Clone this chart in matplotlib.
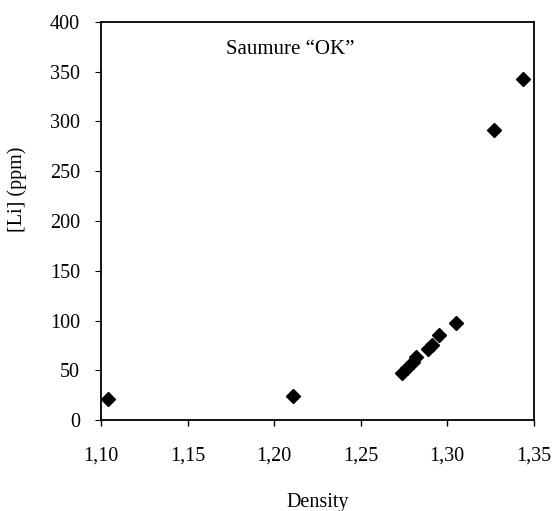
import matplotlib
matplotlib.use("Agg")
import matplotlib.pyplot as plt
from matplotlib.ticker import FuncFormatter

# values
density = [1.104, 1.211, 1.274, 1.277, 1.280, 1.282, 1.289, 1.291,
           1.295, 1.305, 1.327, 1.344]
lithium_ppm = [21, 24, 47, 52, 58, 63, 71, 75, 85, 98, 291, 343]

x_ticks = [1.10, 1.15, 1.20, 1.25, 1.30, 1.35]
y_ticks = [0, 50, 100, 150, 200, 250, 300, 350, 400]

plt.rcParams["font.family"] = ["Liberation Serif", "DejaVu Serif"]

fig = plt.figure(figsize=(5.52, 5.11), dpi=100)
ax = fig.add_axes([0.183, 0.178, 0.784, 0.779])

ax.plot(density, lithium_ppm, linestyle="none", marker="D",
        markersize=7, color="black", clip_on=False)

ax.set_xlim(1.10, 1.35)
ax.set_ylim(0, 400)
ax.set_xticks(x_ticks)
ax.set_yticks(y_ticks)
ax.xaxis.set_major_formatter(FuncFormatter(lambda v, _: f"{v:.2f}".replace(".", ",")))

for side in ax.spines.values():
    side.set_linewidth(1.3)
    side.set_color("black")

ax.tick_params(axis="x", direction="out", length=4, width=1.0,
               pad=15, labelsize=14.5)
ax.tick_params(axis="y", direction="out", length=4, width=0.8,
               pad=11, labelsize=14.5)

ax.set_xlabel("Density", fontsize=14.5)
ax.set_ylabel("[Li] (ppm)", fontsize=14.5)
ax.yaxis.set_label_coords(-0.172, 0.58)
ax.xaxis.set_label_coords(0.5, -0.183)

ax.text(0.438, 0.93, "Saumure \u201cOK\u201d", transform=ax.transAxes,
        ha="center", va="center", fontsize=15)

fig.savefig("out.png", dpi=100)
